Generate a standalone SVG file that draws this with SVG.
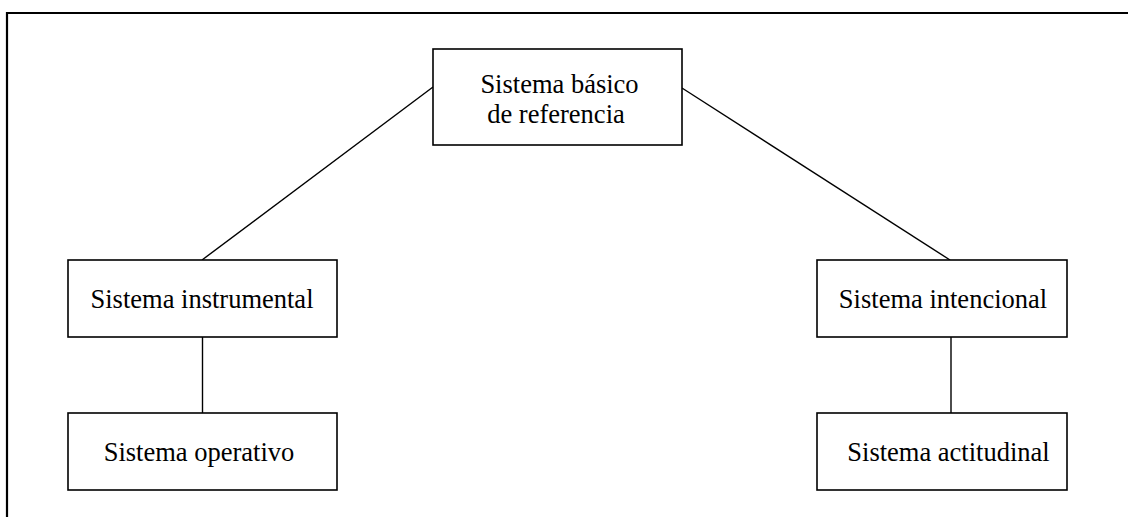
<svg xmlns="http://www.w3.org/2000/svg" width="1128" height="517" viewBox="0 0 1128 517">
<style>
.box{fill:#fff;stroke:#000;stroke-width:1.6}
.lbl{font-family:"Liberation Serif","Times New Roman",serif;font-size:26.5px;fill:#000;text-anchor:middle}
.conn line{stroke:#000;stroke-width:1.4}
</style>
<rect width="1128" height="517" fill="#fff"/>
<path d="M7 517 V13 H1128" fill="none" stroke="#000" stroke-width="2.2"/>
<g id="connectors" class="conn">
<line x1="433" y1="87" x2="202" y2="260"/>
<line x1="682" y1="88" x2="950" y2="260"/>
<line x1="202.5" y1="337" x2="202.5" y2="413"/>
<line x1="951" y1="337" x2="951" y2="413"/>
</g>
<g id="n-basico">
<rect class="box" x="433" y="49" width="249" height="96"/>
<text class="lbl" x="559.5" y="93">Sistema básico</text>
<text class="lbl" x="556" y="123">de referencia</text>
</g>
<g id="n-instrumental">
<rect class="box" x="68" y="260" width="269" height="77"/>
<text class="lbl" x="202" y="308">Sistema instrumental</text>
</g>
<g id="n-operativo">
<rect class="box" x="68" y="413" width="269" height="77"/>
<text class="lbl" x="199" y="461">Sistema operativo</text>
</g>
<g id="n-intencional">
<rect class="box" x="817" y="260" width="250" height="77"/>
<text class="lbl" x="943" y="308">Sistema intencional</text>
</g>
<g id="n-actitudinal">
<rect class="box" x="817" y="413" width="250" height="77"/>
<text class="lbl" x="948.5" y="461">Sistema actitudinal</text>
</g>
</svg>
